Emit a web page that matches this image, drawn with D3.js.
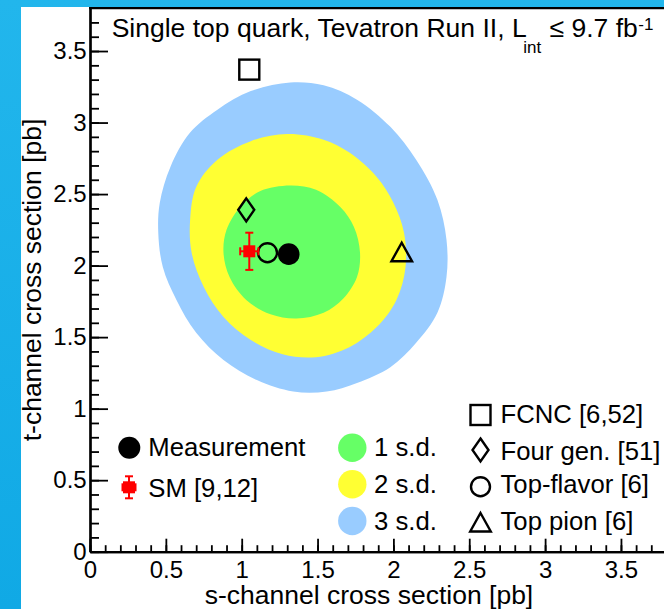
<!DOCTYPE html>
<html><head><meta charset="utf-8">
<script src="https://cdn.jsdelivr.net/npm/d3@7"></script>
<style>
html,body{margin:0;padding:0;background:#fff;}
svg{display:block;}
text{font-family:"Liberation Sans",Arial,Helvetica,sans-serif;fill:#000;}
</style>
</head><body>
<svg id="c" width="664" height="609"></svg>
<script>
// ---------- data ----------
const xTicks = [0, 0.5, 1, 1.5, 2, 2.5, 3, 3.5];
const yTicks = [0, 0.5, 1, 1.5, 2, 2.5, 3, 3.5];
const contour3sd = [[1.32,3.28],[1.54,3.26],[1.76,3.16],[1.98,2.97],[2.15,2.74],[2.29,2.46],[2.35,2.18],[2.35,1.92],[2.29,1.67],[2.15,1.46],[1.98,1.29],[1.76,1.18],[1.56,1.12],[1.34,1.12],[1.10,1.20],[0.88,1.34],[0.70,1.53],[0.57,1.76],[0.48,1.99],[0.45,2.23],[0.46,2.44],[0.53,2.69],[0.66,2.93],[0.84,3.09],[1.06,3.22]];
const contour2sd = [[1.30,2.92],[1.54,2.88],[1.71,2.79],[1.89,2.62],[2.00,2.44],[2.07,2.23],[2.08,1.99],[2.02,1.76],[1.89,1.57],[1.71,1.43],[1.49,1.36],[1.27,1.38],[1.06,1.48],[0.88,1.64],[0.75,1.85],[0.67,2.09],[0.66,2.32],[0.70,2.55],[0.84,2.74],[1.06,2.87]];
const contour1sd = [[1.32,2.56],[1.49,2.53],[1.65,2.41],[1.74,2.27],[1.78,2.09],[1.76,1.92],[1.67,1.77],[1.54,1.67],[1.36,1.63],[1.19,1.66],[1.03,1.76],[0.92,1.92],[0.88,2.09],[0.90,2.25],[0.99,2.41],[1.12,2.52]];
const measurement = [1.31, 2.08];
const smValue = [1.05, 2.10];
const smError = [0.06, 0.13];
const modelNames = ["FCNC [6,52]", "Four gen. [51]", "Top-flavor [6]", "Top pion [6]"];
const modelS = [1.05, 1.03, 1.17, 2.055];
const modelT = [3.37, 2.39, 2.09, 2.09];
const sdLabels = ["1 s.d.", "2 s.d.", "3 s.d."];
const pointLabels = ["Measurement", "SM [9,12]"];

// ---------- layout ----------
const svg = d3.select("#c");
const W = 664, H = 609;
const x = d3.scaleLinear().domain([0, 4]).range([90, 90 + 4 * 151.7]);
const y = d3.scaleLinear().domain([0, 3.8]).range([551.7, 551.7 - 3.8 * 143.05]);
const sdColors = ["#66ff66", "#ffff33", "#99ccff"];
const FS = 26.5, LFS = 25.7;

// background (slide)
const defs = svg.append("defs");
const g1 = defs.append("linearGradient").attr("id","bg").attr("x1",0).attr("y1",0).attr("x2",0).attr("y2",1);
g1.append("stop").attr("offset","0%").attr("stop-color","#22b6ec");
g1.append("stop").attr("offset","100%").attr("stop-color","#10a9e5");
svg.append("rect").attr("width",W).attr("height",H).attr("fill","url(#bg)");
svg.append("rect").attr("x",21).attr("y",7).attr("width",W-21).attr("height",H-7).attr("fill","#fff");

defs.append("clipPath").attr("id","plotclip").append("rect")
  .attr("x", x(0)).attr("y", y(3.8)).attr("width", W - x(0)).attr("height", y(0) - y(3.8));

// contours
const line = d3.line().x(d => x(d[0])).y(d => y(d[1])).curve(d3.curveCatmullRomClosed.alpha(0.5));
const plot = svg.append("g").attr("clip-path","url(#plotclip)");
[contour3sd, contour2sd, contour1sd].forEach((c, i) => {
  plot.append("path").attr("d", line(c)).attr("fill", sdColors[2 - i]).attr("stroke", "none");
});

// ---------- axes ----------
const minor = d3.range(0, 40).map(i => i / 10);
const axX = svg.append("g").attr("transform", `translate(0,${y(0)})`);
axX.call(d3.axisBottom(x).tickValues(minor).tickSize(-6.5).tickSizeOuter(0).tickFormat(""));
axX.call(g => g.selectAll(".tick line").attr("stroke-width", 1.8));
const axX2 = svg.append("g").attr("transform", `translate(0,${y(0)})`);
axX2.call(d3.axisBottom(x).tickValues(xTicks).tickSize(-13).tickSizeOuter(0).tickPadding(9).tickFormat(d => String(d)));
[axX, axX2].forEach(a => a.select(".domain").attr("stroke-width", 2.2));
axX2.selectAll(".tick line").attr("stroke-width", 1.8);
axX2.selectAll("text").attr("font-size", 24).attr("font-family", "Liberation Sans, Arial, sans-serif").attr("fill","#000");

const axY = svg.append("g").attr("transform", `translate(${x(0)},0)`);
axY.call(d3.axisLeft(y).tickValues(d3.range(0, 38).map(i => i / 10)).tickSize(-9).tickSizeOuter(0).tickFormat(""));
axY.selectAll(".tick line").attr("stroke-width", 1.8);
const axY2 = svg.append("g").attr("transform", `translate(${x(0)},0)`);
axY2.call(d3.axisLeft(y).tickValues(yTicks).tickSize(-18).tickSizeOuter(0).tickPadding(3.3).tickFormat(d => String(d)));
axY2.selectAll(".tick line").attr("stroke-width", 1.8);
[axY, axY2].forEach(a => a.select(".domain").attr("stroke-width", 2.2));
axY2.selectAll("text").attr("font-size", 24).attr("font-family", "Liberation Sans, Arial, sans-serif").attr("fill","#000");

// top frame
svg.append("line").attr("x1", x(0) - 1).attr("x2", W).attr("y1", y(3.8)).attr("y2", y(3.8))
  .attr("stroke", "#000").attr("stroke-width", 2.2);

// axis titles
svg.append("text").attr("x", 369).attr("y", 604.3).attr("text-anchor", "middle")
  .attr("font-size", FS).text("s-channel cross section [pb]");
svg.append("text").attr("transform", "translate(41,280) rotate(-90)").attr("text-anchor", "middle")
  .attr("font-size", FS).text("t-channel cross section [pb]");

// title
const title = svg.append("text").attr("x", 111.7).attr("y", 37.3).attr("font-size", FS);
title.append("tspan").text("Single top quark, Tevatron Run II, L");
title.append("tspan").attr("font-size", 17).attr("dx", -3.3).attr("dy", 15.7).text("int");
title.append("tspan").attr("font-size", FS).attr("dx", 8.3).attr("dy", -15.7).text("\u2264 9.7 fb");
title.append("tspan").attr("font-size", 17).attr("dx", 0.5).attr("dy", -7.3).text("-1");

// ---------- marker helpers ----------
function drawShape(g, shape, cx, cy) {
  const st = { fill: "none", stroke: "#000", "stroke-width": 2.4 };
  let el;
  if (shape === 0) {
    el = g.append("rect").attr("x", cx - 10).attr("y", cy - 10).attr("width", 20).attr("height", 20);
  } else if (shape === 1) {
    el = g.append("path").attr("d", `M${cx},${cy - 11.5}L${cx + 8},${cy}L${cx},${cy + 11.5}L${cx - 8},${cy}Z`);
  } else if (shape === 2) {
    el = g.append("circle").attr("cx", cx).attr("cy", cy).attr("r", 9.5);
  } else {
    el = g.append("path").attr("d", `M${cx},${cy - 10}L${cx + 10.3},${cy + 8.5}L${cx - 10.3},${cy + 8.5}Z`);
  }
  Object.entries(st).forEach(([k, v]) => el.attr(k, v));
}
function drawSM(g, cx, cy, ex, ey) {
  const red = "#ff0000";
  g.append("line").attr("x1", cx).attr("x2", cx).attr("y1", cy - ey).attr("y2", cy + ey).attr("stroke", red).attr("stroke-width", 2);
  g.append("line").attr("x1", cx - ex).attr("x2", cx + ex).attr("y1", cy).attr("y2", cy).attr("stroke", red).attr("stroke-width", 2);
  [cy - ey, cy + ey].forEach(v => g.append("line").attr("x1", cx - 4).attr("x2", cx + 4).attr("y1", v).attr("y2", v).attr("stroke", red).attr("stroke-width", 2));
  [cx - ex, cx + ex].forEach(v => g.append("line").attr("x1", v).attr("x2", v).attr("y1", cy - 4).attr("y2", cy + 4).attr("stroke", red).attr("stroke-width", 2));
  g.append("rect").attr("x", cx - 6).attr("y", cy - 6).attr("width", 12).attr("height", 12).attr("fill", red);
}

// ---------- points on plot ----------
const pts = svg.append("g");
modelNames.forEach((n, i) => drawShape(pts, i, x(modelS[i]), y(modelT[i])));
drawSM(pts, x(smValue[0]), y(smValue[1]), x(smValue[0] + smError[0]) - x(smValue[0]), y(smValue[1]) - y(smValue[1] + smError[1]));
pts.append("circle").attr("cx", x(measurement[0])).attr("cy", y(measurement[1])).attr("r", 10.8).attr("fill", "#000");

// ---------- legends ----------
const leg = svg.append("g");
// left column
leg.append("circle").attr("cx", 129.3).attr("cy", 447.7).attr("r", 11).attr("fill", "#000");
drawSM(leg, 129, 487.3, 6.5, 11);
const leftBase = [456, 496.7];
pointLabels.forEach((t, i) => leg.append("text").attr("x", 148.3).attr("y", leftBase[i]).attr("font-size", LFS).text(t));
// s.d. column
const sdCy = [447.7, 484.3, 521], sdBase = [456, 492.7, 530];
sdLabels.forEach((t, i) => {
  leg.append("circle").attr("cx", 352.3).attr("cy", sdCy[i]).attr("r", 14.2).attr("fill", sdColors[i]);
  leg.append("text").attr("x", 374).attr("y", sdBase[i]).attr("font-size", LFS).text(t);
});
// models column
const mCy = [415, 450, 486.7, 523], mBase = [423.3, 460, 493.3, 530];
modelNames.forEach((t, i) => {
  drawShape(leg, i, 480.5, mCy[i]);
  leg.append("text").attr("x", 500.5).attr("y", mBase[i]).attr("font-size", LFS).text(t);
});
</script>
</body></html>
